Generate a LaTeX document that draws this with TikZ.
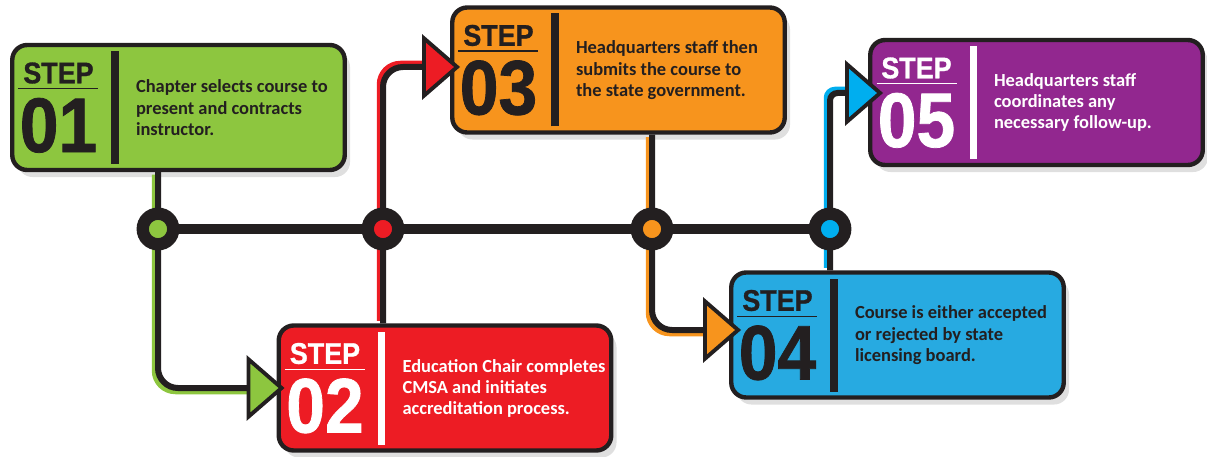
\documentclass[tikz,border=0pt]{standalone}
\usepackage{fontspec}
\setmainfont{Carlito}
\newfontfamily\headfont{Liberation Sans}[FakeStretch=0.9, FakeBold=1]
\usetikzlibrary{arrows.meta,shadows}

\definecolor{stepgreen}{HTML}{8DC63F}
\definecolor{stepred}{HTML}{ED1C24}
\definecolor{steporange}{HTML}{F7941D}
\definecolor{stepblue}{HTML}{27AAE1}
\definecolor{linkblue}{HTML}{00AEEF}
\definecolor{steppurple}{HTML}{92278F}
\definecolor{ink}{HTML}{231F20}

% left column: STEP, rule, number
\newcommand{\stepcol}[1]{\parbox[c]{1.7cm}{\centering
  {\headfont\bfseries\fontsize{17pt}{17pt}\selectfont STEP}\par\nointerlineskip\vspace{2.5pt}%
  \rule{1.6cm}{0.7pt}\par\nointerlineskip\vspace{5pt}%
  {\headfont\bfseries\fontsize{44pt}{44pt}\selectfont #1}\par}}
% whole box content
\newcommand{\stepbody}[2]{\stepcol{#1}\hspace{0.21cm}%
  \rule[-1.04cm]{4pt}{2.26cm}\hspace{0.35cm}%
  \parbox[c]{4.1cm}{\raggedright\fontsize{10.5pt}{12pt}\selectfont\bfseries #2}}

\tikzset{
  stepbox/.style={shape=rectangle, draw=ink, line width=2.5pt, rounded corners=0.3cm,
    minimum width=6.65cm, minimum height=2.5cm, inner sep=0pt,
    drop shadow={shadow xshift=3pt, shadow yshift=-4pt, opacity=0.25}},
  hubdot/.style={shape=circle, draw=ink, line width=7pt, minimum size=0.61cm, inner sep=0pt},
  linkbase/.style={line width=0.15cm, rounded corners=0.4cm, shorten >=0.7cm},
  linkcore/.style={draw=ink, line width=0.12cm, rounded corners=0.4cm},
  linktip/.style={-{Triangle[length=0.76cm, width=1.3cm, line width=2.2pt, fill=#1]}}
}

\begin{document}
\begin{tikzpicture}
            \useasboundingbox (0, 0) rectangle (24.14, 9.12);

            \node (s1)[stepbox, fill=stepgreen, text=ink]
                at (3.57, 6.97) {\stepbody{01}{Chapter selects course to\\present and contracts\\instructor.}};
            \node (s2)[stepbox, fill=stepred, text=white]
                at (8.90, 1.36) {\stepbody{02}{Education Chair completes\\CMSA and initiates\\accreditation process.}};
            \node (s3)[stepbox, fill=steporange, text=ink]
                at (12.37, 7.72) {\stepbody{03}{Headquarters staff then\\submits the course to\\the state government.}};
            \node (s4)[stepbox, fill=stepblue, text=ink]
                at (17.95, 2.42) {\stepbody{04}{Course is either accepted\\or rejected by state\\licensing board.}};
            \node (s5)[stepbox, fill=steppurple, text=white]
                at (20.73, 7.07) {\stepbody{05}{Headquarters staff\\coordinates any\\necessary follow-up.}};

            \coordinate (h1) at (3.16, 4.54);
            \coordinate (h2) at (7.66, 4.54);
            \coordinate (h3) at (13.04, 4.54);
            \coordinate (h4) at (16.60, 4.54);

            % connectors
            \draw [linkbase, draw=stepgreen, transform canvas={shift={(-0.05cm,-0.05cm)}}]
                (h1 |- s1.south) |- ([xshift=0.16cm]s2.west);
            \draw [linkcore, linktip=stepgreen] (h1 |- s1.south) |- ([xshift=0.16cm]s2.west);
            \draw [linkbase, draw=stepred, transform canvas={shift={(-0.05cm,0.05cm)}}]
                (h2 |- s2.north) |- ([xshift=0.2cm, yshift=0.06cm]s3.west);
            \draw [linkcore, linktip=stepred] (h2 |- s2.north) |- ([xshift=0.2cm, yshift=0.06cm]s3.west);
            \draw [linkbase, draw=steporange, transform canvas={shift={(-0.05cm,-0.05cm)}}]
                (h3 |- s3.south) |- ([xshift=0.24cm, yshift=0.1cm]s4.west);
            \draw [linkcore, linktip=steporange] (h3 |- s3.south) |- ([xshift=0.24cm, yshift=0.1cm]s4.west);
            \draw [linkbase, draw=linkblue, rounded corners=0.15cm, transform canvas={shift={(-0.05cm,0.05cm)}}]
                (h4 |- s4.north) |- ([xshift=0.3cm, yshift=0.19cm]s5.west);
            \draw [linkcore, linktip=linkblue, rounded corners=0.15cm] (h4 |- s4.north) |- ([xshift=0.3cm, yshift=0.19cm]s5.west);

            % timeline
            \draw [ink, line width=0.2cm] (h1) -- (h4);
            \node (d1)[hubdot, fill=stepgreen] at (h1) {};
            \node (d2)[hubdot, fill=stepred] at (h2) {};
            \node (d3)[hubdot, fill=steporange] at (h3) {};
            \node (d4)[hubdot, fill=linkblue] at (h4) {};
         \end{tikzpicture}
\end{document}
